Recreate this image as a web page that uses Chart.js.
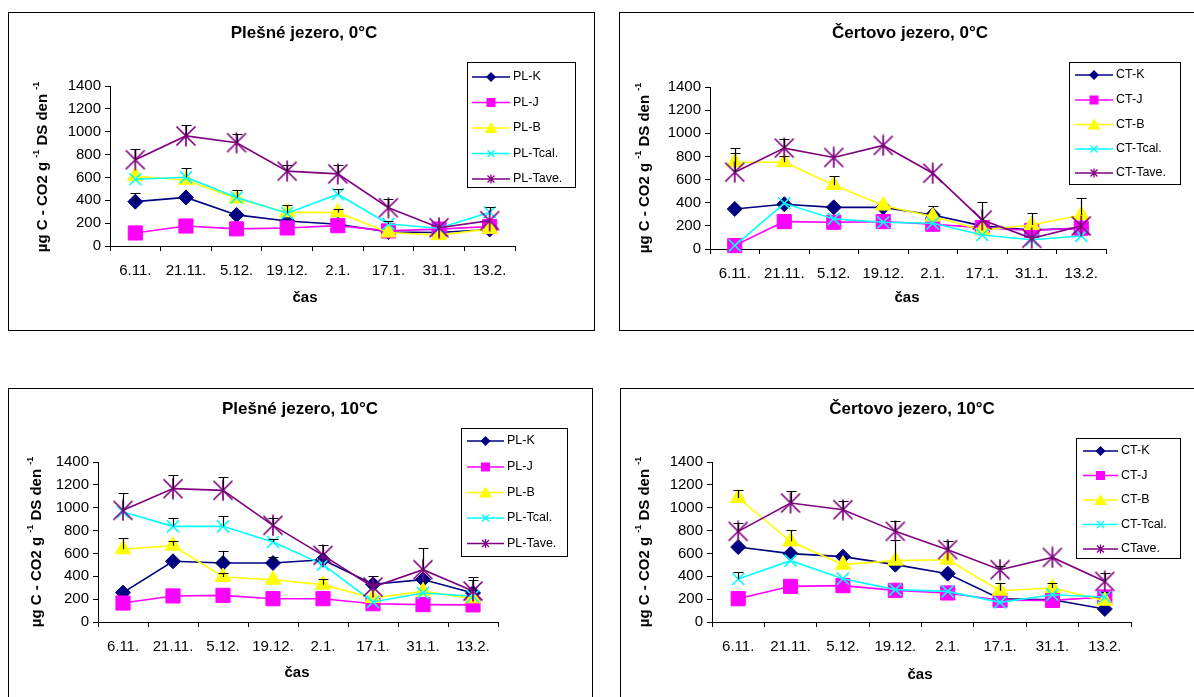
<!DOCTYPE html>
<html>
<head>
<meta charset="utf-8">
<script src="https://cdn.jsdelivr.net/npm/chart.js@4.4.1/dist/chart.umd.min.js"></script>
<style>
  html, body { margin: 0; padding: 0; background: #fff; }
  body { width: 1194px; height: 697px; overflow: hidden; position: relative; }
  .panel { position: absolute; border: 1px solid #000; background: #fff; box-sizing: border-box; overflow: hidden; }
  .panel canvas { position: absolute; left: 0; top: 0; display: block; }
</style>
</head>
<body>
<div class="panel" style="left:8px;top:12px;width:587px;height:319px"><canvas id="c1"></canvas></div>
<div class="panel" style="left:619px;top:12px;width:600px;height:319px"><canvas id="c2"></canvas></div>
<div class="panel" style="left:8px;top:388px;width:585px;height:400px"><canvas id="c3"></canvas></div>
<div class="panel" style="left:620px;top:388px;width:600px;height:400px"><canvas id="c4"></canvas></div>

<script>
// Sampling dates (x categories) and value axis range
const dates = ['6.11.', '21.11.', '5.12.', '19.12.', '2.1.', '17.1.', '31.1.', '13.2.'];
const yMin = 0, yMax = 1400, yStep = 200;

// Series names
const plNames = ['PL-K', 'PL-J', 'PL-B', 'PL-Tcal.', 'PL-Tave.'];
const ctNames0 = ['CT-K', 'CT-J', 'CT-B', 'CT-Tcal.', 'CT-Tave.'];
const ctNames10 = ['CT-K', 'CT-J', 'CT-B', 'CT-Tcal.', 'CTave.'];

// Plešné jezero, 0 °C  (µg C-CO2 per g DS per day)
const plK0 = [388, 425, 272, 219, 190, 122, 118, 145];
const plJ0 = [114, 175, 150, 158, 178, 132, 148, 170];
const plB0 = [610, 578, 415, 294, 294, 118, 95, 150];
const plT0 = [584, 601, 424, 287, 453, 193, 155, 295];
const plA0 = [755, 963, 904, 655, 631, 335, 160, 222];
// upper error bars (null = none)
const plK0e = [74, null, null, null, null, null, null, null];
const plJ0e = [null, null, null, null, null, null, null, null];
const plB0e = [null, null, null, null, 26, null, null, null];
const plT0e = [null, 80, 65, 69, 45, 25, null, 43];
const plA0e = [95, 95, 74, 50, 74, 74, null, null];

// Čertovo jezero, 0 °C
const ctK0 = [346, 387, 360, 360, 294, 200, 164, 180];
const ctJ0 = [30, 237, 231, 237, 214, 185, 160, 180];
const ctB0 = [750, 750, 554, 375, 280, 165, 208, 294];
const ctT0 = [30, 395, 260, 231, 222, 121, 80, 113];
const ctA0 = [664, 872, 791, 895, 655, 251, 92, 199];
const ctK0e = [null, null, null, null, 78, null, null, null];
const ctJ0e = [null, null, null, null, null, null, null, null];
const ctB0e = [122, 58, 81, null, null, null, 100, 150];
const ctT0e = [null, null, null, null, null, null, null, null];
const ctA0e = [165, 78, null, null, null, 153, null, null];

// Plešné jezero, 10 °C
const plK10 = [257, 531, 516, 516, 545, 330, 371, 254];
const plJ10 = [166, 228, 233, 204, 204, 160, 152, 150];
const plB10 = [636, 668, 394, 370, 327, 210, 268, 207];
const plT10 = [963, 837, 837, 700, 502, 175, 254, 225];
const plA10 = [977, 1167, 1152, 846, 583, 306, 458, 271];
const plK10e = [null, null, 105, 53, null, 73, null, 111];
const plJ10e = [null, null, null, null, null, null, null, null];
const plB10e = [99, 38, 35, null, 52, null, null, null];
const plT10e = [null, 73, 88, 29, null, null, null, null];
const plA10e = [152, 116, 117, 67, 88, null, 190, 123];

// Čertovo jezero, 10 °C
const ctK10 = [656, 598, 572, 502, 423, 204, 195, 114];
const ctJ10 = [204, 312, 318, 277, 254, 190, 189, 219];
const ctB10 = [1085, 706, 502, 537, 545, 274, 297, 186];
const ctT10 = [376, 537, 379, 283, 268, 172, 239, 219];
const ctA10 = [793, 1041, 983, 793, 633, 458, 565, 355];
const ctK10e = [null, null, null, null, null, null, null, null];
const ctJ10e = [null, null, null, null, null, null, null, 46];
const ctB10e = [73, 102, null, 183, null, 67, 47, null];
const ctT10e = [59, null, null, null, null, null, null, null];
const ctA10e = [73, 108, 79, 94, 73, 35, null, 74];

// ---- styling ----
const FONT = '"Liberation Sans", Arial, Helvetica, sans-serif';
Chart.defaults.font.family = FONT;
const COLORS = ['#000080', '#FF00FF', '#FFFF00', '#00FFFF', '#800080'];
const MARKERS = ['diamond', 'square', 'triangle', 'x', 'star'];

function starImage(color, half) {
  const s = Math.ceil(half * 2 + 3);
  const c = document.createElement('canvas');
  c.width = s; c.height = s;
  const g = c.getContext('2d');
  const m = s / 2;
  g.strokeStyle = color; g.lineWidth = 1.7;
  g.beginPath();
  g.moveTo(m - half, m - half); g.lineTo(m + half, m + half);
  g.moveTo(m + half, m - half); g.lineTo(m - half, m + half);
  g.moveTo(m, m - half - 1); g.lineTo(m, m + half + 1);
  g.stroke();
  return c;
}

function pointOpts(kind, color) {
  switch (kind) {
    case 'diamond': return { pointStyle: 'rectRot', pointRadius: 7.5, pointBorderWidth: 1 };
    case 'square': return { pointStyle: 'rect', pointRadius: 10, pointBorderWidth: 1 };
    case 'triangle': return { pointStyle: 'triangle', pointRadius: 9, pointBorderWidth: 1 };
    case 'x': return { pointStyle: 'crossRot', pointRadius: 8.5, pointBorderWidth: 1.6 };
    default: return { pointStyle: starImage(color, 9.5), pointRadius: 10, pointBorderWidth: 0 };
  }
}

function legendMarker(ctx, kind, x, y, color) {
  ctx.save();
  ctx.fillStyle = color; ctx.strokeStyle = color; ctx.lineWidth = 1.3;
  ctx.beginPath();
  if (kind === 'diamond') {
    ctx.moveTo(x, y - 5); ctx.lineTo(x + 5, y); ctx.lineTo(x, y + 5); ctx.lineTo(x - 5, y); ctx.closePath(); ctx.fill();
  } else if (kind === 'square') {
    ctx.rect(x - 4.5, y - 4.5, 9, 9); ctx.fill();
  } else if (kind === 'triangle') {
    ctx.moveTo(x, y - 6); ctx.lineTo(x + 6.5, y + 5); ctx.lineTo(x - 6.5, y + 5); ctx.closePath(); ctx.fill();
  } else if (kind === 'x') {
    ctx.moveTo(x - 3.5, y - 3.5); ctx.lineTo(x + 3.5, y + 3.5);
    ctx.moveTo(x + 3.5, y - 3.5); ctx.lineTo(x - 3.5, y + 3.5); ctx.stroke();
  } else {
    ctx.moveTo(x - 3.5, y - 3.5); ctx.lineTo(x + 3.5, y + 3.5);
    ctx.moveTo(x + 3.5, y - 3.5); ctx.lineTo(x - 3.5, y + 3.5);
    ctx.moveTo(x, y - 4.5); ctx.lineTo(x, y + 4.5); ctx.stroke();
  }
  ctx.restore();
}

function drawYTitle(ctx, cx, cy, size) {
  const parts = [['µg C - CO2 g ', false], ['-1', true], [' DS den ', false], ['-1', true]];
  const nf = 'bold ' + size + 'px ' + FONT;
  const sf = 'bold ' + Math.round(size * 0.62) + 'px ' + FONT;
  ctx.save();
  ctx.translate(cx, cy);
  ctx.rotate(-Math.PI / 2);
  let w = 0;
  parts.forEach(p => { ctx.font = p[1] ? sf : nf; w += ctx.measureText(p[0]).width; });
  let x = -w / 2;
  ctx.fillStyle = '#000'; ctx.textAlign = 'left'; ctx.textBaseline = 'middle';
  parts.forEach(p => {
    ctx.font = p[1] ? sf : nf;
    ctx.fillText(p[0], x, p[1] ? -size * 0.42 : 0);
    x += ctx.measureText(p[0]).width;
  });
  ctx.restore();
}

// ---- panel layout (page coordinates) ----
const PANELS = {
  c1: {
    left: 9, top: 13, w: 585, h: 317,
    area: { l: 110, r: 515, t: 86, b: 246 },
    title: 'Plešné jezero, 0°C', titlePos: [304, 33], casPos: [305, 298], yTitlePos: [43, 167],
    legend: { x: 467, y: 62, w: 109, h: 126, rows: [77, 102.5, 128, 153.5, 179], lineX: [472, 510], textX: 513 },
    names: plNames, series: [plK0, plJ0, plB0, plT0, plA0], errs: [plK0e, plJ0e, plB0e, plT0e, plA0e]
  },
  c2: {
    left: 620, top: 13, w: 598, h: 317,
    area: { l: 710, r: 1106, t: 87, b: 249 },
    title: 'Čertovo jezero, 0°C', titlePos: [910, 33], casPos: [907, 298], yTitlePos: [645, 168],
    legend: { x: 1069, y: 62, w: 112, h: 123, rows: [75, 100, 124.5, 149, 173], lineX: [1075, 1113], textX: 1116 },
    names: ctNames0, series: [ctK0, ctJ0, ctB0, ctT0, ctA0], errs: [ctK0e, ctJ0e, ctB0e, ctT0e, ctA0e]
  },
  c3: {
    left: 9, top: 389, w: 583, h: 398,
    area: { l: 98, r: 498, t: 462, b: 622 },
    title: 'Plešné jezero, 10°C', titlePos: [300, 409], casPos: [297, 673], yTitlePos: [37, 542],
    legend: { x: 461, y: 428, w: 107, h: 129, rows: [441, 467, 492.5, 518, 543.5], lineX: [467, 504], textX: 507 },
    names: plNames, series: [plK10, plJ10, plB10, plT10, plA10], errs: [plK10e, plJ10e, plB10e, plT10e, plA10e]
  },
  c4: {
    left: 621, top: 389, w: 598, h: 398,
    area: { l: 712, r: 1131, t: 462, b: 622 },
    title: 'Čertovo jezero, 10°C', titlePos: [912, 409], casPos: [920, 675], yTitlePos: [645, 542],
    legend: { x: 1076, y: 438, w: 105, h: 121, rows: [451, 475.5, 500, 524.5, 549], lineX: [1083, 1118], textX: 1121 },
    names: ctNames10, series: [ctK10, ctJ10, ctB10, ctT10, ctA10], errs: [ctK10e, ctJ10e, ctB10e, ctT10e, ctA10e]
  }
};

// Error bars after each series, then titles and legend on top
const decor = {
  id: 'decor',
  afterDatasetDraw(chart, args) {
    const ds = chart.data.datasets[args.index];
    const errs = ds.errPlus;
    if (!errs) return;
    const ctx = chart.ctx, ys = chart.scales.y;
    ctx.save();
    ctx.strokeStyle = '#000'; ctx.lineWidth = 1.2;
    args.meta.data.forEach((pt, i) => {
      const e = errs[i];
      if (e == null) return;
      const v = ds.data[i];
      const x = Math.round(pt.x) + 0.5;
      const y0 = ys.getPixelForValue(v), y1 = Math.round(ys.getPixelForValue(v + e)) + 0.5;
      ctx.beginPath();
      ctx.moveTo(x, y0); ctx.lineTo(x, y1);
      ctx.moveTo(x - 5, y1); ctx.lineTo(x + 5, y1);
      ctx.stroke();
    });
    ctx.restore();
  },
  afterDraw(chart) {
    const p = PANELS[chart.canvas.id];
    const ctx = chart.ctx, ox = p.left, oy = p.top;
    ctx.save();
    ctx.fillStyle = '#000'; ctx.textAlign = 'center'; ctx.textBaseline = 'middle';
    ctx.font = 'bold 17px ' + FONT;
    ctx.fillText(p.title, p.titlePos[0] - ox, p.titlePos[1] - oy);
    ctx.font = 'bold 15px ' + FONT;
    ctx.fillText('čas', p.casPos[0] - ox, p.casPos[1] - oy);
    drawYTitle(ctx, p.yTitlePos[0] - ox, p.yTitlePos[1] - oy, 15);

    const L = p.legend;
    ctx.fillStyle = '#fff';
    ctx.fillRect(L.x - ox, L.y - oy, L.w, L.h);
    ctx.strokeStyle = '#000'; ctx.lineWidth = 1;
    ctx.strokeRect(L.x - ox + 0.5, L.y - oy + 0.5, L.w - 1, L.h - 1);
    chart.data.datasets.forEach((ds, i) => {
      const y = L.rows[i] - oy;
      const x0 = L.lineX[0] - ox, x1 = L.lineX[1] - ox;
      ctx.strokeStyle = ds.borderColor; ctx.lineWidth = 1.6;
      ctx.beginPath(); ctx.moveTo(x0, y); ctx.lineTo(x1, y); ctx.stroke();
      legendMarker(ctx, ds.marker, (x0 + x1) / 2, y, ds.borderColor);
      ctx.fillStyle = '#000'; ctx.textAlign = 'left'; ctx.textBaseline = 'middle';
      ctx.font = '12.5px ' + FONT;
      ctx.fillText(ds.label, L.textX - ox, y);
    });
    ctx.restore();
  }
};

function buildChart(id) {
  const p = PANELS[id];
  const canvas = document.getElementById(id);
  canvas.width = p.w; canvas.height = p.h;
  const datasets = p.series.map((vals, i) => Object.assign({
    label: p.names[i],
    data: vals,
    errPlus: p.errs[i],
    marker: MARKERS[i],
    borderColor: COLORS[i],
    backgroundColor: COLORS[i],
    pointBackgroundColor: COLORS[i],
    pointBorderColor: COLORS[i],
    borderWidth: 1.6,
    tension: 0,
    clip: false,
    order: 5 - i
  }, pointOpts(MARKERS[i], COLORS[i])));

  new Chart(canvas, {
    type: 'line',
    data: { labels: dates, datasets },
    options: {
      responsive: false,
      animation: false,
      events: [],
      layout: { padding: { left: 0, top: p.area.t - p.top, right: (p.left + p.w) - p.area.r, bottom: 0 } },
      plugins: { legend: { display: false }, tooltip: { enabled: false }, title: { display: false } },
      scales: {
        x: {
          offset: true,
          grid: { offset: true, drawOnChartArea: false, drawTicks: true, tickLength: 5, color: '#000' },
          border: { color: '#000', width: 1 },
          ticks: { color: '#000', font: { size: 15 }, padding: 11, maxRotation: 0, autoSkip: false },
          afterFit(s) { s.height = (p.top + p.h) - p.area.b; }
        },
        y: {
          min: yMin, max: yMax,
          grid: { drawOnChartArea: false, drawTicks: true, tickLength: 5, color: '#000' },
          border: { color: '#000', width: 1 },
          ticks: { stepSize: yStep, color: '#000', font: { size: 15 }, padding: 4, callback: v => String(v) },
          afterFit(s) { s.width = p.area.l - p.left; }
        }
      }
    },
    plugins: [decor]
  });
}

['c1', 'c2', 'c3', 'c4'].forEach(buildChart);
</script>
</body>
</html>
